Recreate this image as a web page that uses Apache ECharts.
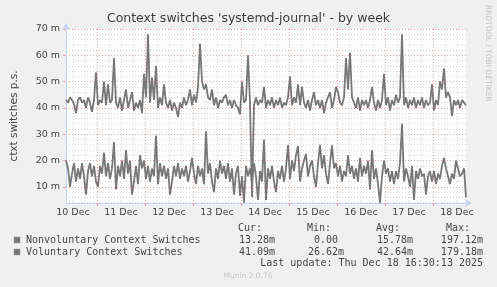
<!DOCTYPE html>
<html><head><meta charset="utf-8">
<script src="https://cdn.jsdelivr.net/npm/echarts@6/dist/echarts.min.js"></script>
<style>html,body{margin:0;padding:0;background:#f0f0f0}#c{width:497px;height:287px}</style>
</head><body><div id="c"></div>
<script>
const titleText = "Context switches 'systemd-journal' - by week";
const yAxisName = "ctxt switches p.s.";
const startHour = 8.5;   // hours after 10 Dec 00:00
const stepHours = 1;
const endHour = 208.5;
const dayLabels = ['10 Dec','11 Dec','12 Dec','13 Dec','14 Dec','15 Dec','16 Dec','17 Dec','18 Dec'];
const yTicks = [10, 20, 30, 40, 50, 60, 70];
const yMin = 3.85, yMax = 70;
const seriesNames = ['Nonvoluntary Context Switches', 'Voluntary Context Switches'];
const voluntary = [
43,42,44,43,41.5,38,43,44,42,43,40,44,42,38.5,43,53.5,41,43,42,50,
41,49,42,43,59,42,40,44,39,43,47,40,43,46,39,42,40,43,38,53,
44,68,42,51.5,43,56,40,44,41,49,42,40,43,39,42,40,36.5,42,40,44,
41,43,47,41,45,42,48,64.5,50,47,49,44,43,47,41,44,40,43,42,44,
45,41,43,40,43,41,40,37.5,50,42,43,60,42,6,41,44,41,43,42,48,
40,43,41,44,40,43,41,44,40,42,41,44,52,41,44,42,49,41,48,42,
40,43,39,43,46,41,43,40,43,38,42,44,46,40,43,48,46,42,41,44,
59,47,61,44,42,40,44,39,43,41,43,40,43,48,42,39,43,40,43,53,
41,44,39,43,41,45,42,44,68,41,44,40,43,41,44,40,43,41,44,40,
43,41,42,49,39,43,41,50,47,55,44,46,44,37,43,41,43,40,43,42,
41];
const nonvoluntary = [
20,17,10,15,19,12,17,13,19,14,7,16,19,14,18,12,10,18,15,23,
14,19,13,17,27,9,18,14,20,13,24,15,20,7,12,18,11,22,17,20,
13,18,12,17,14,29.5,11,19,14,18,13,17,7,12,18,14,19,13,17,14,
18,12,16,21,15,11,18,14,17,11,31,15,19,12,8,17,13,20,15,18,
13,19,12,17,7,15,18,6.5,14,4,18,14,17,12,19,14,5,16,12,28,
5,17,13,18,12,8,16,13,18,12,17,26,13,20,16,22,25.5,12,17,20,
22.5,14,18,20,14,10,19,26,17,22,15,11,19,25.8,17,19,14,18,12,16,
14,22,15,18,13,17,12,21,14,18,15,20,9,24,13,17,11,4,14,20,
15,17,12,16,11,16,13,19,34,12,17,14,10,18,5,16,13,17,14,15,
7,14,16,12,16,11,15,13,18,21,17,14,11,15,13,20,17,14,15,17,
6];
const statHeaders = ['Cur:', 'Min:', 'Avg:', 'Max:'];
const nonvolStats = ['13.28m', '0.00 ', '15.78m', '197.12m'];
const volStats = ['41.09m', '26.62m', '42.64m', '179.18m'];
const lastUpdate = 'Last update: Thu Dec 18 16:30:13 2025';
const footerText = 'Munin 2.0.76';
const sideText = 'RRDTOOL / TOBI OETIKER';

const toPairs = arr => arr.map((v, i) => [startHour + i * stepHours, v]);
const midnights = [], sixHours = [], noons = [];
for (let h = 0; h <= 216; h += 6) {
  if (h < startHour || h > endHour) continue;
  if (h % 24 === 0) midnights.push(h); else sixHours.push(h);
}
for (let d = 0; d < dayLabels.length; d++) noons.push(12 + 24 * d);
const minorY = [];
for (let v = 4; v <= 70; v += 2) if (v % 10 !== 0) minorY.push(v);

const LINE = '#777777';
const AXIS = '#c9d0f5';
const MAJ = '#eba2a2';
const MIN = '#d6d6d6';
const FONT = 'DejaVu Sans';
const MONO = 'DejaVu Sans Mono';
const TXT = '#474747';

const chart = echarts.init(document.getElementById('c'), null, {renderer: 'canvas'});
const grid = {left: 66, right: 31, top: 29, bottom: 84};
const colRight = [275, 344, 413, 483];
const graphics = [];
statHeaders.forEach((h, k) => graphics.push({type: 'text', x: colRight[k] - 13, y: 228,
  style: {text: h, font: '10px "' + MONO + '"', fill: TXT, textAlign: 'right', textVerticalAlign: 'middle'}}));
[[nonvolStats, 240, seriesNames[0]], [volStats, 252, seriesNames[1]]].forEach(([st, y, name]) => {
  graphics.push({type: 'rect', shape: {x: 14, y: y - 3, width: 6, height: 6},
    style: {fill: LINE, stroke: '#999', lineWidth: 0.5}});
  graphics.push({type: 'text', x: 26, y: y,
    style: {text: name, font: '10px "' + MONO + '"', fill: TXT, textVerticalAlign: 'middle'}});
  st.forEach((s, k) => graphics.push({type: 'text', x: colRight[k], y: y,
    style: {text: s, font: '10px "' + MONO + '"', fill: TXT, textAlign: 'right', textVerticalAlign: 'middle'}}));
});
graphics.push({type: 'text', x: 483, y: 263,
  style: {text: lastUpdate, font: '10px "' + MONO + '"', fill: TXT, textAlign: 'right', textVerticalAlign: 'middle'}});
graphics.push({type: 'text', x: 248, y: 276,
  style: {text: footerText, font: '7.5px "' + FONT + '"', fill: '#c8c8c8', textAlign: 'center', textVerticalAlign: 'middle'}});
graphics.push({type: 'text', x: 488, y: 5, rotation: -Math.PI / 2,
  style: {text: sideText, font: '7.5px "' + FONT + '"', fill: '#c4c4c4', textAlign: 'left', textVerticalAlign: 'middle'}});
graphics.push({type: 'text', x: 248.5, y: 19,
  style: {text: titleText, font: '12.5px "' + FONT + '"', fill: '#3c3c3c', textAlign: 'center', textVerticalAlign: 'middle'}});

chart.setOption({
  animation: false,
  backgroundColor: '#f0f0f0',
  grid: Object.assign({show: true, backgroundColor: '#ffffff', borderWidth: 0}, grid),
  xAxis: [
    {type: 'value', min: startHour, max: endHour, position: 'bottom',
     axisLine: {show: false}, axisLabel: {show: false},
     axisTick: {show: false, customValues: sixHours},
     splitLine: {show: true, lineStyle: {color: MIN, type: [1, 2], width: 1}}},
    {type: 'value', min: startHour, max: endHour, position: 'bottom',
     axisLine: {show: true, lineStyle: {color: AXIS, width: 1}, symbol: ['none', 'arrow'], symbolSize: [6, 7], symbolOffset: [0, 6]},
     axisTick: {show: true, length: 3, inside: false, customValues: midnights, lineStyle: {color: MAJ}},
     axisLabel: {show: true, customValues: noons, color: '#444', fontFamily: FONT, fontSize: 9.5, margin: 5,
       formatter: v => dayLabels[Math.round((v - 12) / 24)]},
     splitLine: {show: true, lineStyle: {color: MAJ, type: [1, 2], width: 1}}}
  ],
  yAxis: [
    {type: 'value', min: yMin, max: yMax, position: 'left',
     axisLine: {show: false}, axisLabel: {show: false},
     axisTick: {show: false, customValues: minorY},
     splitLine: {show: true, lineStyle: {color: MIN, type: [1, 2], width: 1}}},
    {type: 'value', min: yMin, max: yMax, position: 'left',
     name: yAxisName, nameLocation: 'middle', nameGap: 46, nameRotate: 90,
     nameTextStyle: {color: '#444', fontFamily: FONT, fontSize: 10.5},
     axisLine: {show: true, lineStyle: {color: AXIS, width: 1}, symbol: ['none', 'arrow'], symbolSize: [6, 7], symbolOffset: [0, 6]},
     axisTick: {show: true, length: 3, customValues: yTicks, lineStyle: {color: MAJ}},
     axisLabel: {show: true, customValues: yTicks, color: '#444', fontFamily: FONT, fontSize: 9.5, margin: 6,
       formatter: v => Math.round(v) + ' m'},
     splitLine: {show: true, lineStyle: {color: MAJ, type: [1, 2], width: 1}}}
  ],
  series: [
    {name: seriesNames[0], type: 'line', xAxisIndex: 1, yAxisIndex: 1, data: toPairs(nonvoluntary),
     symbol: 'none', lineStyle: {color: LINE, width: 1.8}, clip: true},
    {name: seriesNames[1], type: 'line', xAxisIndex: 1, yAxisIndex: 1, data: toPairs(voluntary),
     symbol: 'none', lineStyle: {color: LINE, width: 1.8}, clip: true}
  ],
  graphic: graphics
});
</script></body></html>
